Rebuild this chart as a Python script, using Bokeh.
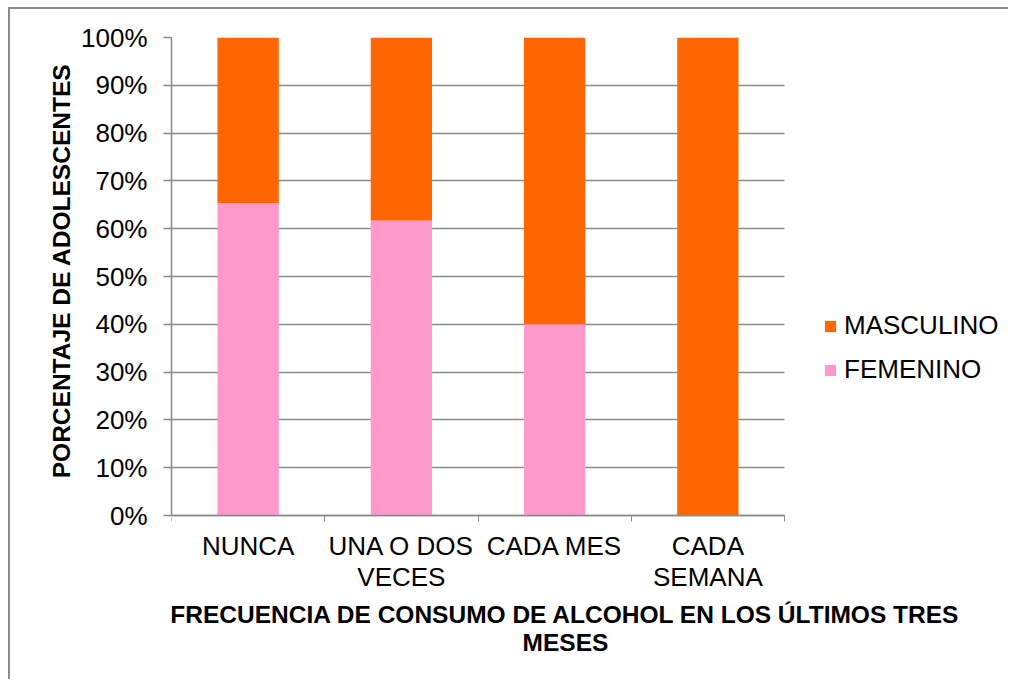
from bokeh.plotting import figure
from bokeh.models import (Range1d, FixedTicker, NumeralTickFormatter, Legend,
                          LegendItem, Label, Title, ColumnDataSource, Grid)
from bokeh.embed import file_html
from bokeh.resources import INLINE
import numpy as np

# ---------------- data ----------------
categories = ["NUNCA", "UNA O DOS VECES", "CADA MES", "CADA SEMANA"]
category_labels = ["NUNCA", "UNA O DOS\nVECES", "CADA MES", "CADA\nSEMANA"]
femenino = [0.653, 0.617, 0.40, 0.0]
masculino = [0.347, 0.383, 0.60, 1.0]
y_ticks = [0.0, 0.1, 0.2, 0.3, 0.4, 0.5, 0.6, 0.7, 0.8, 0.9, 1.0]
series_names = ["FEMENINO", "MASCULINO"]
series_colors = ["#FF99CC", "#FF6600"]
x_title = "FRECUENCIA DE CONSUMO DE ALCOHOL EN LOS ÚLTIMOS TRES\nMESES"
y_title = "PORCENTAJE DE ADOLESCENTES"

# ---------------- layout constants (pixels) ----------------
FONT = "Liberation Sans"
GRAY = "#8a8a8a"
W, H = 1000, 672
BORDER_L, BORDER_T = 161, 28          # frame starts here inside the canvas
FRAME_W, FRAME_H = W - BORDER_L, H - BORDER_T
PLOT_W, PLOT_H = 613, 478             # pixel extent of the category / 0-100% area

n = len(categories)
x_end = n * FRAME_W / PLOT_W
y_start = 1.0 - FRAME_H / PLOT_H

x_pos = [float(v) for v in np.arange(n) + 0.5]
bounds = [float(v) for v in np.arange(n + 1)]
source = ColumnDataSource(dict(x=x_pos, femenino=femenino, masculino=masculino))

p = figure(width=W, height=H,
           x_range=Range1d(0, x_end), y_range=Range1d(y_start, 1),
           output_backend="svg", toolbar_location=None,
           min_border_left=BORDER_L, min_border_top=BORDER_T,
           min_border_right=0, min_border_bottom=0)
p.styles = {"margin-left": "8px", "margin-top": "7px",
            "border-left": "2px solid #8c8c8c", "border-top": "2px solid #8c8c8c"}
p.outline_line_color = None
p.background_fill_color = "white"
p.border_fill_color = "white"

rs = p.vbar_stack(["femenino", "masculino"], x="x", width=0.4,
                  color=series_colors, line_color=None, source=source)

# ---------------- x axis (at 0%) ----------------
xa = p.xaxis[0]
xa.fixed_location = 0
xa.bounds = (0, n)
xa.ticker = FixedTicker(ticks=x_pos, minor_ticks=bounds)
xa.major_label_overrides = {x: lab for x, lab in zip(x_pos, category_labels)}
xa.major_tick_out = 0
xa.major_tick_in = 0
xa.minor_tick_out = 6
xa.minor_tick_in = 0
xa.minor_tick_line_color = GRAY
xa.minor_tick_line_width = 1
xa.axis_line_color = GRAY
xa.axis_line_width = 1.5
xa.major_label_text_font = FONT
xa.major_label_text_font_size = "26px"
xa.major_label_text_color = "black"
xa.major_label_text_line_height = 1.05
xa.major_label_standoff = 9

# ---------------- y axis ----------------
ya = p.yaxis[0]
ya.bounds = (0, 1)
ya.ticker = FixedTicker(ticks=y_ticks)
ya.formatter = NumeralTickFormatter(format="0%")
ya.major_tick_out = 8
ya.major_tick_in = 0
ya.minor_tick_line_color = None
ya.major_tick_line_color = GRAY
ya.major_tick_line_width = 1.5
ya.axis_line_color = GRAY
ya.axis_line_width = 1.5
ya.major_label_text_font = FONT
ya.major_label_text_font_size = "26px"
ya.major_label_text_color = "black"
ya.major_label_standoff = 16

p.xgrid.visible = False
yg = p.ygrid[0]
yg.grid_line_color = GRAY
yg.grid_line_width = 1.5
yg.bounds = (0, 1)
if "cross_bounds" in Grid.properties():
    yg.cross_bounds = (0, n)

# ---------------- y title ----------------
yt = Title(text=y_title, align="right", offset=26, standoff=8,
           text_font=FONT, text_font_size="24.5px", text_font_style="bold",
           text_color="black")
p.add_layout(yt, "left")

# ---------------- legend ----------------
legend = Legend(items=[LegendItem(label=series_names[1], renderers=[rs[1]]),
                       LegendItem(label=series_names[0], renderers=[rs[0]])],
                location=(652, 296), orientation="vertical",
                padding=0, margin=0, spacing=13,
                glyph_width=14, glyph_height=14, label_standoff=7,
                label_height=30,
                label_text_font=FONT, label_text_font_size="26px",
                label_text_color="black",
                border_line_color=None, background_fill_alpha=0)
p.add_layout(legend)

# ---------------- x title ----------------
xt = Label(x=394, y=81, x_units="screen", y_units="screen",
           text=x_title, text_align="center", text_baseline="top",
           text_font=FONT, text_font_size="24.5px", text_font_style="bold",
           text_color="black", text_line_height=1.06)
p.add_layout(xt)

open("out.html", "w").write(file_html(p, INLINE))
